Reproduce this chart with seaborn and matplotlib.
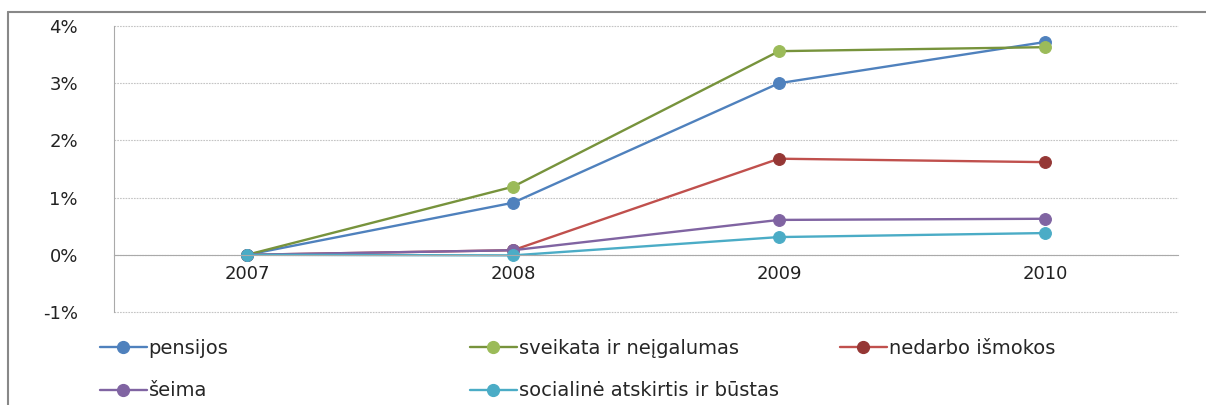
import matplotlib
matplotlib.use("Agg")
import matplotlib.pyplot as plt
import matplotlib.ticker as mticker
from matplotlib.lines import Line2D
import seaborn as sns

years = ["2007", "2008", "2009", "2010"]
pensijos = [0.0, 0.91, 3.0, 3.72]
sveikata = [0.0, 1.19, 3.56, 3.63]
nedarbo = [0.0, 0.08, 1.68, 1.62]
seima = [0.0, 0.08, 0.61, 0.63]
socialine = [0.0, -0.01, 0.31, 0.38]

series = [
    ("pensijos", pensijos, "#4F81BD", "#4F81BD"),
    ("sveikata ir neįgalumas", sveikata, "#77933C", "#9BBB59"),
    ("nedarbo išmokos", nedarbo, "#C0504D", "#953735"),
    ("šeima", seima, "#8064A2", "#8064A2"),
    ("socialinė atskirtis ir būstas", socialine, "#4BACC6", "#4BACC6"),
]

sns.set_style("white")
plt.rcParams["font.family"] = ["DejaVu Sans"]

W, H = 1206, 405
fig = plt.figure(figsize=(W / 100, H / 100), dpi=100)
ax = fig.add_axes([114 / W, 1 - 312 / H, 1064 / W, 286 / H])

xs = list(range(len(years)))
handles = {}
for name, vals, lc, mc in series:
    sns.lineplot(x=xs, y=vals, ax=ax, color=lc, linewidth=1.7, marker="o",
                 markersize=8.5, markerfacecolor=mc, markeredgecolor=mc)
    handles[name] = Line2D([], [], color=lc, linewidth=1.7, marker="o",
                           markersize=8.5, markerfacecolor=mc, markeredgecolor=mc)

ax.set_xlim(-0.5, 3.5)
ax.set_ylim(-1, 4)
ax.yaxis.set_major_locator(mticker.MultipleLocator(1))
ax.yaxis.set_major_formatter(mticker.FuncFormatter(lambda v, p: f"{v:.0f}%"))
ax.grid(axis="y", color="#C4C4C4", linestyle=(0, (1.5, 1)), linewidth=0.8)
for gl in ax.get_ygridlines():
    gl.set_clip_on(False)

ax.set_xticks(xs)
ax.set_xticklabels(years)
ax.set_xticks([0.5, 1.5, 2.5, 3.5], minor=True)
ax.tick_params(axis="x", which="major", length=0, pad=7, labelsize=13, labelcolor="#222222")
ax.tick_params(axis="x", which="minor", length=5, color="#999999", direction="out")
ax.tick_params(axis="y", length=0, pad=26, labelsize=13, labelcolor="#222222")

ax.spines["bottom"].set_position(("data", 0))
ax.spines["bottom"].set_color("#AAAAAA")
ax.spines["left"].set_color("#AAAAAA")
ax.spines["top"].set_visible(False)
ax.spines["right"].set_visible(False)
ax.set_xlabel("")
ax.set_ylabel("")

# Excel-like outer frame
fig.add_artist(Line2D([8 / W, 8 / W], [0, 1 - 12 / H], color="#888888", linewidth=1.5))
fig.add_artist(Line2D([8 / W, 1], [1 - 12 / H, 1 - 12 / H], color="#888888", linewidth=1.5))

# legend laid out like Excel: three equal columns, filled row by row
columns = [["pensijos", "šeima"],
           ["sveikata ir neįgalumas", "socialinė atskirtis ir būstas"],
           ["nedarbo išmokos"]]
col_x = [100, 470, 840]
for names, x in zip(columns, col_x):
    fig.legend([handles[n] for n in names], names, loc="upper left",
               bbox_to_anchor=(x / W, 1 - 339 / H), frameon=False, fontsize=14,
               handlelength=2.4, handletextpad=0.1, borderpad=0, borderaxespad=0,
               labelspacing=1.2)

fig.savefig("out.png", dpi=100)
